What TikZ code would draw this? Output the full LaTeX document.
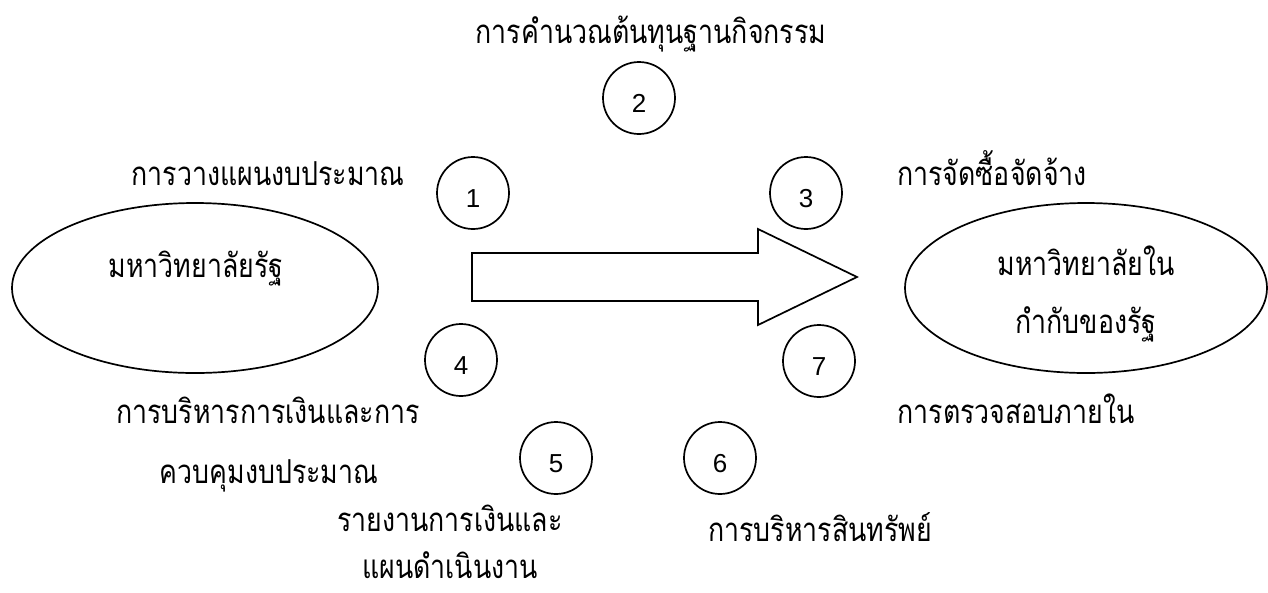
\documentclass[tikz,border=0pt]{standalone}
\usepackage{fontspec}
\newfontfamily\thaifont[Script=Thai,FakeStretch=0.81]{Loma}
\newfontfamily\numfont{Liberation Sans}
\usetikzlibrary{shapes.geometric}
\begin{document}
\begin{tikzpicture}[x=1pt,y=-1pt,
  font=\thaifont\fontsize{33}{40}\selectfont,
  line width=1.7pt,
  lbl/.style={anchor=base, inner sep=0pt},
  numc/.style={circle, draw, minimum size=72pt, inner sep=0pt, text height=28pt, text depth=0pt,
    font=\numfont\fontsize{26}{30}\selectfont},
  uni/.style={ellipse, draw, inner sep=0pt, minimum height=170pt}]
\useasboundingbox (0,0) rectangle (1268,592);
% universities
\node[uni, minimum width=366pt] (uL) at (195,288) {};
\node[uni, minimum width=362pt] (uR) at (1086,288) {};
\node[lbl] (tL) at (196,277) {มหาวิทยาลัยรัฐ};
\node[lbl] (tR1) at (1086,275) {มหาวิทยาลัยใน};
\node[lbl] (tR2) at (1086,333) {กำกับของรัฐ};
% big arrow
\coordinate (a1) at (472,253);
\coordinate (a2) at (758,253);
\coordinate (a3) at (758,229);
\coordinate (tip) at (857,277);
\coordinate (a5) at (758,325);
\coordinate (a6) at (758,301);
\coordinate (a7) at (472,301);
\draw[line join=miter] (a1) -- (a2) -- (a3) -- (tip) -- (a5) -- (a6) -- (a7) -- cycle;
% numbered circles
\node[numc] (c1) at (473,193) {1};
\node[numc] (c2) at (639,98) {2};
\node[numc] (c3) at (806,193) {3};
\node[numc] (c4) at (461,360) {4};
\node[numc] (c5) at (556,458) {5};
\node[numc] (c6) at (720,458) {6};
\node[numc] (c7) at (819,361) {7};
% labels
\node[lbl] (l2) at (651,43) {การคำนวณต้นทุนฐานกิจกรรม};
\node[lbl] (l1) at (268,185) {การวางแผนงบประมาณ};
\node[lbl] (l3) at (992,185) {การจัดซื้อจัดจ้าง};
\node[lbl] (l4a) at (268,423) {การบริหารการเงินและการ};
\node[lbl] (l4b) at (269,483) {ควบคุมงบประมาณ};
\node[lbl] (l7) at (1016,423) {การตรวจสอบภายใน};
\node[lbl] (l5a) at (450,531) {รายงานการเงินและ};
\node[lbl] (l5b) at (450,578) {แผนดำเนินงาน};
\node[lbl] (l6) at (820,541) {การบริหารสินทรัพย์};
\end{tikzpicture}
\end{document}
